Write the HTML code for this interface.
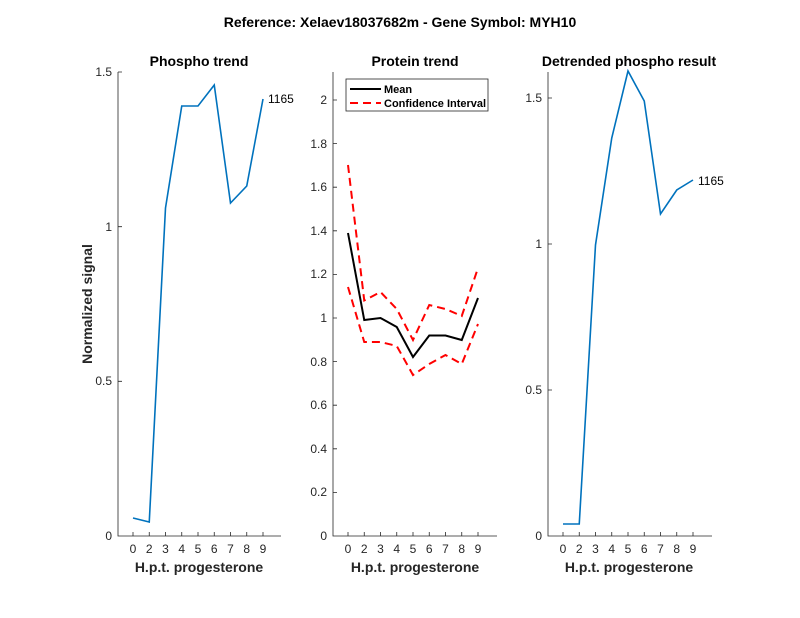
<!DOCTYPE html>
<html><head><meta charset="utf-8"><style>
html,body{margin:0;padding:0;background:#fff;}
svg{display:block;font-family:"Liberation Sans",sans-serif;}
</style></head><body>
<svg width="800" height="618" viewBox="0 0 800 618" xmlns="http://www.w3.org/2000/svg">
<rect width="800" height="618" fill="#fff"/>
<text x="400" y="27" text-anchor="middle" font-size="14" font-weight="bold" fill="#000">Reference:  Xelaev18037682m - Gene Symbol:  MYH10</text>

<!-- Panel 1 -->
<g>
<text x="199" y="66" text-anchor="middle" font-size="14" font-weight="bold">Phospho trend</text>
<g stroke="#262626" stroke-width="0.8" fill="none">
<path d="M118,72 V536 H281"/>
<path d="M118,72 h4 M118,226.7 h4 M118,381.3 h4"/>
<path d="M133,536 v-4 M149.25,536 v-4 M165.5,536 v-4 M181.75,536 v-4 M198,536 v-4 M214.25,536 v-4 M230.5,536 v-4 M246.75,536 v-4 M263,536 v-4"/>
</g>
<g font-size="12" fill="#262626" text-anchor="end">
<text x="112" y="540">0</text><text x="112" y="385">0.5</text><text x="112" y="231">1</text><text x="112" y="76">1.5</text>
</g>
<g font-size="12" fill="#262626" text-anchor="middle">
<text x="133" y="553">0</text><text x="149.25" y="553">2</text><text x="165.5" y="553">3</text><text x="181.75" y="553">4</text><text x="198" y="553">5</text><text x="214.25" y="553">6</text><text x="230.5" y="553">7</text><text x="246.75" y="553">8</text><text x="263" y="553">9</text>
</g>
<text x="199" y="572" text-anchor="middle" font-size="14" font-weight="bold" fill="#262626">H.p.t. progesterone</text>
<text transform="translate(92,304) rotate(-90)" text-anchor="middle" font-size="14" font-weight="bold" fill="#262626">Normalized signal</text>
<polyline fill="none" stroke="#0072BD" stroke-width="1.6" points="133,518 149.25,522 165.5,208 181.75,106 198,106 214.25,85 230.5,203 246.75,186 263,99"/>
<text x="268" y="103" font-size="12" fill="#000">1165</text>
</g>

<!-- Panel 2 -->
<g>
<text x="415" y="66" text-anchor="middle" font-size="14" font-weight="bold">Protein trend</text>
<g stroke="#262626" stroke-width="0.8" fill="none">
<path d="M333,72 V536 H497"/>
<path d="M333,492.4 h4 M333,448.8 h4 M333,405.2 h4 M333,361.6 h4 M333,318 h4 M333,274.4 h4 M333,230.8 h4 M333,187.2 h4 M333,143.6 h4 M333,100 h4"/>
<path d="M348,536 v-4 M364.25,536 v-4 M380.5,536 v-4 M396.75,536 v-4 M413,536 v-4 M429.25,536 v-4 M445.5,536 v-4 M461.75,536 v-4 M478,536 v-4"/>
</g>
<g font-size="12" fill="#262626" text-anchor="end">
<text x="327" y="540">0</text><text x="327" y="496">0.2</text><text x="327" y="453">0.4</text><text x="327" y="409">0.6</text><text x="327" y="366">0.8</text><text x="327" y="322">1</text><text x="327" y="278">1.2</text><text x="327" y="235">1.4</text><text x="327" y="191">1.6</text><text x="327" y="148">1.8</text><text x="327" y="104">2</text>
</g>
<g font-size="12" fill="#262626" text-anchor="middle">
<text x="348" y="553">0</text><text x="364.25" y="553">2</text><text x="380.5" y="553">3</text><text x="396.75" y="553">4</text><text x="413" y="553">5</text><text x="429.25" y="553">6</text><text x="445.5" y="553">7</text><text x="461.75" y="553">8</text><text x="478" y="553">9</text>
</g>
<text x="415" y="572" text-anchor="middle" font-size="14" font-weight="bold" fill="#262626">H.p.t. progesterone</text>
<polyline fill="none" stroke="#000" stroke-width="2" points="348,233 364.25,320 380.5,318 396.75,327 413,357 429.25,335.5 445.5,335.5 461.75,340 478,298"/>
<polyline fill="none" stroke="#f00" stroke-width="2" stroke-dasharray="8,5" points="348,165 364.25,300.5 380.5,292 396.75,309 413,340 429.25,305 445.5,309 461.75,316 478,268"/>
<polyline fill="none" stroke="#f00" stroke-width="2" stroke-dasharray="8,5" points="348,287 364.25,342 380.5,342 396.75,346 413,375 429.25,364 445.5,355 461.75,364 478,324"/>
<rect x="346" y="79" width="142" height="32" fill="#fff" stroke="#262626" stroke-width="0.8"/>
<line x1="350" y1="89" x2="381" y2="89" stroke="#000" stroke-width="2"/>
<line x1="350" y1="103" x2="381" y2="103" stroke="#f00" stroke-width="2" stroke-dasharray="8,5"/>
<text x="384" y="93" font-size="11" font-weight="bold">Mean</text>
<text x="384" y="107" font-size="11" font-weight="bold">Confidence Interval</text>
</g>

<!-- Panel 3 -->
<g>
<text x="629" y="66" text-anchor="middle" font-size="14" font-weight="bold">Detrended phospho result</text>
<g stroke="#262626" stroke-width="0.8" fill="none">
<path d="M548,72 V536 H712"/>
<path d="M548,390 h4 M548,244 h4 M548,98 h4"/>
<path d="M563,536 v-4 M579.25,536 v-4 M595.5,536 v-4 M611.75,536 v-4 M628,536 v-4 M644.25,536 v-4 M660.5,536 v-4 M676.75,536 v-4 M693,536 v-4"/>
</g>
<g font-size="12" fill="#262626" text-anchor="end">
<text x="542" y="540">0</text><text x="542" y="394">0.5</text><text x="542" y="248">1</text><text x="542" y="102">1.5</text>
</g>
<g font-size="12" fill="#262626" text-anchor="middle">
<text x="563" y="553">0</text><text x="579.25" y="553">2</text><text x="595.5" y="553">3</text><text x="611.75" y="553">4</text><text x="628" y="553">5</text><text x="644.25" y="553">6</text><text x="660.5" y="553">7</text><text x="676.75" y="553">8</text><text x="693" y="553">9</text>
</g>
<text x="629" y="572" text-anchor="middle" font-size="14" font-weight="bold" fill="#262626">H.p.t. progesterone</text>
<polyline fill="none" stroke="#0072BD" stroke-width="1.6" points="563,524 579.25,524 595.5,245 611.75,138 628,71 644.25,101 660.5,214 676.75,190 693,180"/>
<text x="698" y="185" font-size="12" fill="#000">1165</text>
</g>
</svg>
</body></html>
